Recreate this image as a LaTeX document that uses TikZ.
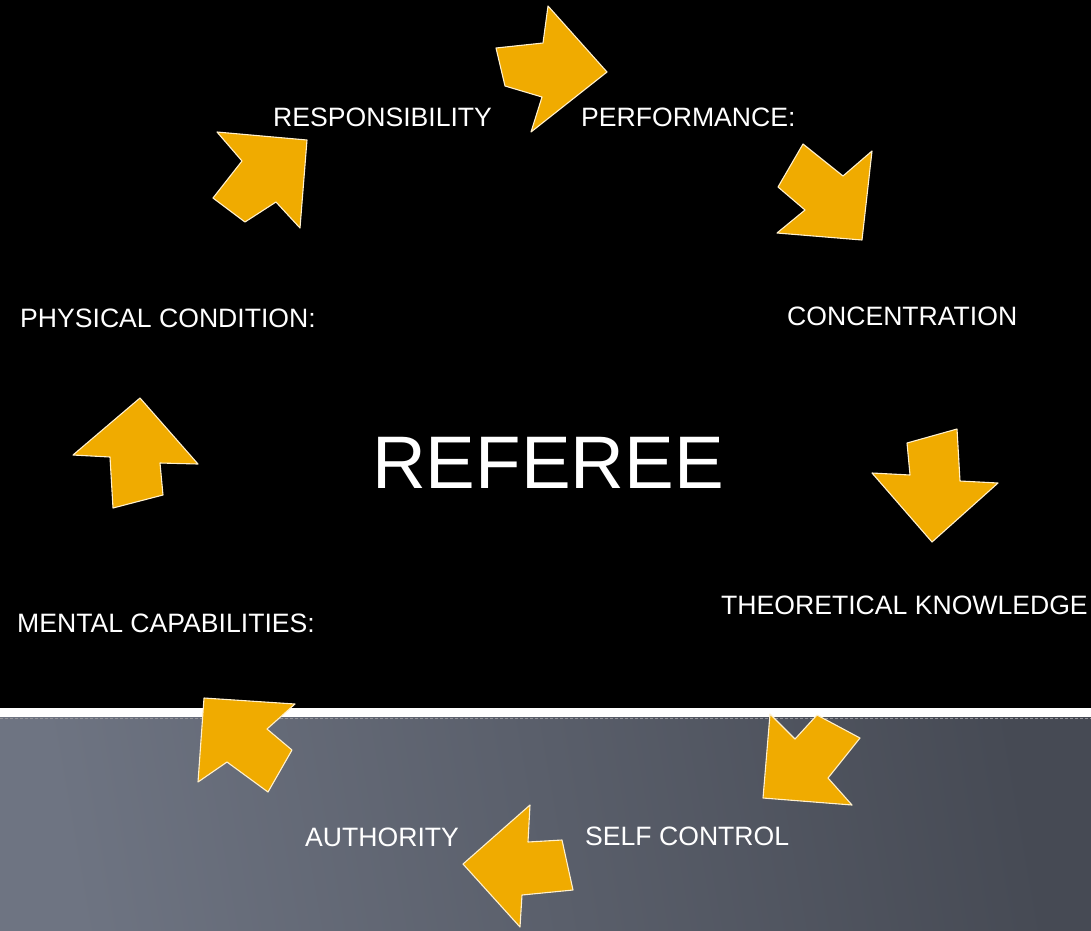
\documentclass[tikz,border=0pt]{standalone}
\usepackage{fontspec}
\setmainfont{Liberation Sans}
\definecolor{arrowfill}{RGB}{240,171,0}
\definecolor{arrowedge}{RGB}{255,240,205}
\definecolor{grayL}{RGB}{110,116,130}
\definecolor{grayR}{RGB}{70,74,84}
\definecolor{dotline}{RGB}{150,150,155}
\begin{document}
\begin{tikzpicture}[x=1pt,y=-1pt,
  blockarrow/.style={fill=arrowfill,draw=arrowedge,line width=1.1pt,line join=round},
  label/.style={text=white,font=\fontsize{26.6}{30}\selectfont,inner sep=0pt,anchor=base west}]
\useasboundingbox (0,0) rectangle (1091,930);
% background
\fill[black] (0,0) rectangle (1091,708);
\shade[left color=grayL,right color=grayR,shading angle=100] (0,717) rectangle (1091,930);
\fill[white] (0,708) rectangle (1091,717);
\draw[dotline,line width=1.5pt,dash pattern=on 3pt off 2pt] (0,718.5) -- (1091,718.5);
% arrows
\draw[blockarrow] (496,48) -- (543,43) -- (548,6) -- (607,72) -- (531,132) -- (542,97) -- (505,86) -- cycle;
\draw[blockarrow] (803,144) -- (843,176) -- (872,151) -- (862,240) -- (777,233) -- (805,210) -- (778,187) -- cycle;
\draw[blockarrow] (907,443) -- (957,429) -- (960,481) -- (998,483) -- (932,542) -- (872,473) -- (910,475) -- cycle;
\draw[blockarrow] (770,714) -- (795,739) -- (817,715) -- (860,738) -- (828,778) -- (852,805) -- (763,798) -- cycle;
\draw[blockarrow] (530,805) -- (528,842) -- (562,840) -- (573,890) -- (522,895) -- (520,927) -- (463,864) -- cycle;
\draw[blockarrow] (204,698) -- (295,704) -- (267,729) -- (292,750) -- (268,792) -- (227,762) -- (198,782) -- cycle;
\draw[blockarrow] (140,398) -- (198,464) -- (160,463) -- (163,495) -- (113,508) -- (110,457) -- (73,455) -- cycle;
\draw[blockarrow] (307,140) -- (300,228) -- (276,202) -- (245,222) -- (213,198) -- (242,161) -- (217,132) -- cycle;
% labels
\node[label] (resp) at (273,126.5) {RESPONSIBILITY};
\node[label] (perf) at (581,126.5) {PERFORMANCE:};
\node[label] (conc) at (787,325.5) {CONCENTRATION};
\node[label] (phys) at (20,327.5) {PHYSICAL CONDITION:};
\node[label] (theo) at (721,614.5) {THEORETICAL KNOWLEDGE};
\node[label] (ment) at (17,632.5) {MENTAL CAPABILITIES:};
\node[label] (auth) at (305,846.5) {AUTHORITY};
\node[label] (self) at (585,845.5) {SELF CONTROL};
\node[text=white,font=\fontsize{74.5}{80}\selectfont,inner sep=0pt,anchor=base west] (ref) at (372,488) {REFEREE};
\end{tikzpicture}
\end{document}
